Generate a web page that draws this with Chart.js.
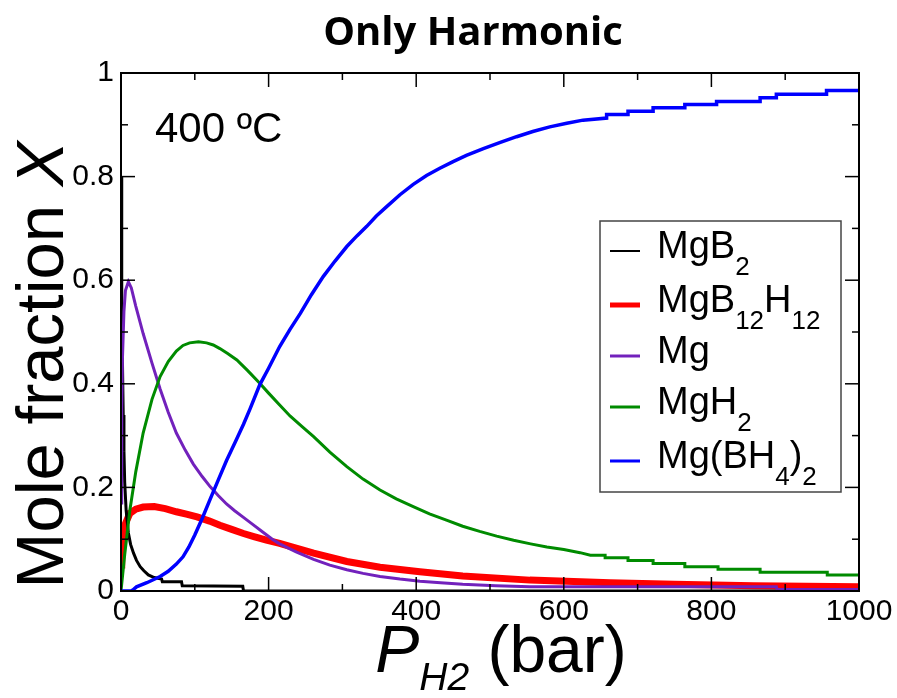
<!DOCTYPE html>
<html lang="en">
<head>
  <meta charset="UTF-8" />
  <title>Only Harmonic</title>
  <script src="https://cdn.jsdelivr.net/npm/chart.js"></script>
  <style>
    body {
      margin: 0;
      background: #fff;
    }
    canvas#chart {
      display: block;
    }
  </style>
</head>
<body>
  <canvas id="chart" width="897" height="698"></canvas>

  <script>
    // mole fractions vs hydrogen pressure, 400 C, harmonic model only
    const mgB2 = [
      [0, 0.80], [1, 0.58], [2, 0.44], [3, 0.34], [4, 0.27], [5, 0.21], [7, 0.155],
      [10, 0.112], [13, 0.09], [17, 0.073], [21, 0.059], [26, 0.047], [31, 0.039],
      [37, 0.031], [45, 0.026], [55, 0.023], [56, 0.018], [82, 0.018], [83, 0.010],
      [165, 0.009], [166, 0], [1000, 0]
    ];
    const mgB12H12 = [
      [0, 0.05], [1, 0.085], [3, 0.11], [6, 0.13], [12, 0.15], [20, 0.158], [30, 0.162],
      [45, 0.163], [60, 0.159], [75, 0.153], [90, 0.148], [103, 0.143], [120, 0.135],
      [134, 0.127], [150, 0.119], [166, 0.111], [180, 0.105], [197, 0.098], [215, 0.092],
      [229, 0.086], [261, 0.073], [306, 0.057], [351, 0.046], [405, 0.037], [463, 0.029],
      [554, 0.021], [663, 0.016], [750, 0.013], [857, 0.010], [1000, 0.008]
    ];
    const mg = [
      [0, 0.17], [1, 0.35], [2, 0.45], [4, 0.54], [6, 0.58], [10, 0.597], [14, 0.585],
      [20, 0.55], [30, 0.497], [42, 0.44], [53, 0.39], [64, 0.345], [75, 0.305],
      [87, 0.272], [98, 0.245], [110, 0.221], [121, 0.201], [132, 0.184], [143, 0.168],
      [154, 0.155], [165, 0.143], [178, 0.129], [192, 0.114], [205, 0.100], [215, 0.091],
      [238, 0.075], [261, 0.061], [283, 0.050], [306, 0.041], [328, 0.034], [351, 0.028],
      [378, 0.023], [405, 0.019], [433, 0.016], [463, 0.013], [508, 0.010], [554, 0.008],
      [888, 0.008], [889, 0.003], [1000, 0.003]
    ];
    const mgH2 = [
      [0, 0], [5, 0.07], [12, 0.156], [20, 0.23], [30, 0.305], [42, 0.37], [53, 0.414],
      [64, 0.443], [75, 0.463], [84, 0.474], [93, 0.479], [105, 0.481], [116, 0.479],
      [125, 0.475], [134, 0.468], [145, 0.458], [157, 0.446], [172, 0.425], [188, 0.401],
      [200, 0.382], [215, 0.359], [229, 0.338], [245, 0.318], [261, 0.298], [283, 0.268],
      [306, 0.240], [328, 0.216], [351, 0.195], [373, 0.178], [396, 0.163], [418, 0.149],
      [441, 0.137], [463, 0.125], [486, 0.115], [509, 0.106], [532, 0.098], [555, 0.091],
      [577, 0.085], [600, 0.080], [622, 0.074], [636, 0.069], [656, 0.069], [656, 0.064],
      [687, 0.064], [687, 0.059], [721, 0.059], [721, 0.053], [764, 0.053], [764, 0.047],
      [809, 0.047], [809, 0.042], [866, 0.042], [866, 0.036], [957, 0.036], [957, 0.031],
      [1000, 0.031]
    ];
    const mgBH42 = [
      [0, 0], [14, 0], [16, 0.002], [21, 0.008], [35, 0.016], [53, 0.028], [64, 0.038],
      [75, 0.052], [84, 0.066], [92, 0.085], [100, 0.108], [110, 0.14], [121, 0.178],
      [132, 0.215], [143, 0.252], [155, 0.288], [166, 0.322], [175, 0.352], [188, 0.398],
      [200, 0.43], [215, 0.472], [229, 0.505], [243, 0.536], [258, 0.572], [274, 0.607],
      [290, 0.637], [306, 0.665], [320, 0.686], [333, 0.704], [346, 0.724], [360, 0.742],
      [378, 0.765], [396, 0.785], [414, 0.802], [432, 0.816], [450, 0.829], [468, 0.841],
      [491, 0.854], [514, 0.866], [536, 0.877], [558, 0.887], [581, 0.896], [604, 0.903],
      [626, 0.909], [658, 0.913], [658, 0.920], [687, 0.920], [687, 0.926], [721, 0.926],
      [721, 0.933], [764, 0.933], [764, 0.939], [807, 0.939], [807, 0.945], [866, 0.945],
      [866, 0.952], [888, 0.952], [888, 0.959], [956, 0.959], [956, 0.966], [1000, 0.966]
    ];

    const xTicks = [0, 200, 400, 600, 800, 1000];
    const xTickLabels = ["0", "200", "400", "600", "800", "1000"];
    const yTicks = [0, 0.2, 0.4, 0.6, 0.8, 1];
    const yTickLabels = ["0", "0.2", "0.4", "0.6", "0.8", "1"];
    const xMinorStep = 100;
    const yMinorStep = 0.1;

    // legend entries: text runs, second flag = subscript
    const legendLabels = [
      [["MgB", 0], ["2", 1]],
      [["MgB", 0], ["12", 1], ["H", 0], ["12", 1]],
      [["Mg", 0]],
      [["MgH", 0], ["2", 1]],
      [["Mg(BH", 0], ["4", 1], [")", 0], ["2", 1]]
    ];

    const SANS = '"Liberation Sans", Arial, sans-serif';

    // z: lower number is drawn on top
    const series = [
      { data: mgB2, color: "#000000", width: 3, legendWidth: 2, z: 3 },
      { data: mgB12H12, color: "#ff0000", width: 7, legendWidth: 5, z: 4 },
      { data: mg, color: "#7221bc", width: 3, legendWidth: 3, z: 2 },
      { data: mgH2, color: "#008b00", width: 3, legendWidth: 3, z: 1 },
      { data: mgBH42, color: "#0000ff", width: 3.5, legendWidth: 3, z: 0 }
    ];

    // draws a row of text pieces, returns the total width
    function drawRuns(ctx, x, y, runs, measureOnly) {
      let cx = x;
      runs.forEach(r => {
        ctx.font = r.font;
        if (!measureOnly) ctx.fillText(r.t, cx, y + (r.dy || 0));
        cx += ctx.measureText(r.t).width;
      });
      return cx - x;
    }

    const frameTicks = {
      id: "frameTicks",
      afterDatasetsDraw(chart) {
        const { ctx, chartArea: { left, right, top, bottom }, scales: { x, y } } = chart;
        ctx.save();
        ctx.strokeStyle = "#000";
        ctx.lineWidth = 1.5;
        const line = (x1, y1, x2, y2) => {
          ctx.beginPath();
          ctx.moveTo(x1, y1);
          ctx.lineTo(x2, y2);
          ctx.stroke();
        };
        for (let v = x.min; v <= x.max + 1e-9; v += xMinorStep) {
          const px = x.getPixelForValue(v);
          const len = xTicks.includes(v) ? 14 : 7;
          line(px, bottom, px, bottom - len);
          line(px, top, px, top + len);
        }
        for (let i = 0; Math.round(i * yMinorStep * 10) <= 10; i++) {
          const v = i * yMinorStep;
          const py = y.getPixelForValue(v);
          const len = i % 2 === 0 ? 14 : 7;
          line(left, py, left + len, py);
          line(right, py, right - len, py);
        }
        ctx.lineWidth = 2;
        ctx.strokeRect(left, top, right - left, bottom - top);
        ctx.restore();
      }
    };

    const annotations = {
      id: "annotations",
      afterDraw(chart) {
        const { ctx } = chart;
        ctx.save();
        ctx.fillStyle = "#000";
        ctx.textBaseline = "alphabetic";

        // title
        ctx.font = 'bold 40px "Open Sans", sans-serif';
        ctx.textAlign = "center";
        ctx.fillText("Only Harmonic", 473, 45);
        ctx.textAlign = "left";

        // temperature
        ctx.font = "42px " + SANS;
        ctx.fillText("400 ºC", 155, 142);

        // y axis title
        const yRuns = [
          { t: "Mole fraction ", font: "67px " + SANS },
          { t: "X", font: "italic 67px " + SANS }
        ];
        ctx.save();
        ctx.translate(63, 365);
        ctx.rotate(-Math.PI / 2);
        const yw = drawRuns(ctx, 0, 0, yRuns, true);
        drawRuns(ctx, -yw / 2, 0, yRuns);
        ctx.restore();

        // x axis title
        const xRuns = [
          { t: "P", font: "italic 66px " + SANS },
          { t: "H2", font: "italic 39px " + SANS, dy: 18 },
          { t: " (bar)", font: "66px " + SANS }
        ];
        const xw = drawRuns(ctx, 0, 0, xRuns, true);
        drawRuns(ctx, 501 - xw / 2, 672, xRuns);

        // legend box
        const bx = 600, by = 221, bw = 241, bh = 271;
        ctx.fillStyle = "#fff";
        ctx.fillRect(bx, by, bw, bh);
        ctx.strokeStyle = "#444";
        ctx.lineWidth = 1.5;
        ctx.strokeRect(bx, by, bw, bh);
        ctx.fillStyle = "#000";
        const rowY = [251, 305, 356, 407, 461];
        legendLabels.forEach((runs, i) => {
          const s = series[i];
          ctx.strokeStyle = s.color;
          ctx.lineWidth = s.legendWidth;
          ctx.beginPath();
          ctx.moveTo(610, rowY[i]);
          ctx.lineTo(640, rowY[i]);
          ctx.stroke();
          const parts = runs.map(([t, sub]) => ({
            t,
            font: (sub ? "26px " : "38px ") + SANS,
            dy: sub ? 17 : 0
          }));
          drawRuns(ctx, 657, rowY[i] + 7, parts);
        });
        ctx.restore();
      }
    };

    const ctx = document.getElementById("chart").getContext("2d");
    new Chart(ctx, {
      type: "line",
      data: {
        datasets: series.map(s => ({
          data: s.data.map(([x, y]) => ({ x, y })),
          borderColor: s.color,
          backgroundColor: s.color,
          borderWidth: s.width,
          order: s.z,
          pointRadius: 0,
          fill: false,
          tension: 0
        }))
      },
      options: {
        responsive: false,
        animation: false,
        devicePixelRatio: 1,
        layout: { padding: { top: 73, right: 38, left: 0, bottom: 0 } },
        scales: {
          x: {
            type: "linear",
            min: 0,
            max: 1000,
            grid: { display: false, drawTicks: false },
            border: { display: false },
            afterBuildTicks: scale => { scale.ticks = xTicks.map(v => ({ value: v })); },
            afterFit: scale => {
              scale.height = 107;
              scale.paddingLeft = 0;
              scale.paddingRight = 0;
            },
            ticks: {
              color: "#000",
              font: { family: SANS, size: 30 },
              padding: 3,
              maxRotation: 0,
              autoSkip: false,
              callback: (v, i) => xTickLabels[i]
            }
          },
          y: {
            min: 0,
            max: 1,
            grid: { display: false, drawTicks: false },
            border: { display: false },
            afterBuildTicks: scale => { scale.ticks = yTicks.map(v => ({ value: v })); },
            afterFit: scale => {
              scale.width = 121;
              scale.paddingTop = 0;
              scale.paddingBottom = 0;
            },
            ticks: {
              color: "#000",
              font: { family: SANS, size: 30 },
              padding: 7,
              autoSkip: false,
              callback: (v, i) => yTickLabels[i]
            }
          }
        },
        plugins: {
          legend: { display: false },
          title: { display: false },
          tooltip: { enabled: false }
        }
      },
      plugins: [frameTicks, annotations]
    });
  </script>
</body>
</html>
